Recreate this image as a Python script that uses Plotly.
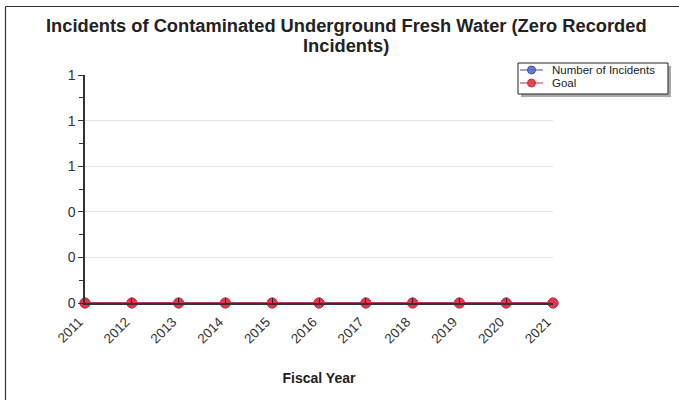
import plotly.graph_objects as go

years = [2011, 2012, 2013, 2014, 2015, 2016, 2017, 2018, 2019, 2020, 2021]
incidents = [0, 0, 0, 0, 0, 0, 0, 0, 0, 0, 0]
goal = [0, 0, 0, 0, 0, 0, 0, 0, 0, 0, 0]
series_names = ["Number of Incidents", "Goal"]
title_lines = ["Incidents of Contaminated Underground Fresh Water (Zero Recorded", "Incidents)"]

W, H = 679, 400
L, R, T, B = 85, 553, 75, 303  # plot area in screen pixels

BLUE_LINE = "#4050a0"
BLUE_FILL = "rgba(80,100,200,0.85)"
RED_LINE = "#c0304a"
RED_FILL = "rgba(235,50,60,0.9)"

fig = go.Figure()
fig.add_trace(go.Scatter(
    x=years, y=incidents, name=series_names[0], mode="lines+markers",
    line=dict(color=BLUE_LINE, width=1.5),
    marker=dict(symbol="circle", size=10, color=BLUE_FILL, line=dict(color=BLUE_LINE, width=1)),
    cliponaxis=False, showlegend=False,
))
fig.add_trace(go.Scatter(
    x=years, y=goal, name=series_names[1], mode="lines+markers",
    line=dict(color=RED_LINE, width=1.5),
    marker=dict(symbol="circle", size=10, color=RED_FILL, line=dict(color="#e03040", width=1)),
    cliponaxis=False, showlegend=False,
))

def px(X):
    return (X - L) / (R - L)

def py(Y):
    return (B - Y) / (B - T)

shapes = [
    # outer frame (left and top edges)
    dict(type="line", xref="paper", yref="paper", x0=px(5.5), x1=px(5.5), y0=py(405), y1=py(6.5),
         line=dict(color="#333333", width=1.2)),
    dict(type="line", xref="paper", yref="paper", x0=px(5.5), x1=px(690), y0=py(6.5), y1=py(6.5),
         line=dict(color="#333333", width=1.2)),
    # legend shadow and box
    dict(type="rect", xref="paper", yref="paper", x0=px(521), x1=px(671), y0=py(97), y1=py(66),
         line=dict(width=0), fillcolor="#aaaaaa"),
    dict(type="rect", xref="paper", yref="paper", x0=px(518), x1=px(668), y0=py(94), y1=py(63),
         line=dict(color="#222222", width=1), fillcolor="white"),
]
annotations = []
# title (two lines, tight spacing)
for yy, txt in zip([25, 46], title_lines):
    annotations.append(dict(text="<b>" + txt + "</b>", xref="paper", yref="paper",
                            x=px(346), y=py(yy), xanchor="center", yanchor="middle",
                            showarrow=False, font=dict(size=18.3, color="#222222")))
leg_items = [(70, BLUE_LINE, BLUE_FILL), (83, RED_LINE, RED_FILL)]
for (yy, lc, fc), name in zip(leg_items, series_names):
    shapes.append(dict(type="line", xref="paper", yref="paper", x0=px(520), x1=px(543),
                       y0=py(yy), y1=py(yy), line=dict(color=lc, width=1)))
    r = 4
    shapes.append(dict(type="circle", xref="paper", yref="paper",
                       x0=px(531.5 - r), x1=px(531.5 + r), y0=py(yy + r), y1=py(yy - r),
                       line=dict(color=lc, width=1), fillcolor=fc))
    annotations.append(dict(text=name, xref="paper", yref="paper", x=px(550), y=py(yy),
                            xanchor="left", yanchor="middle", showarrow=False,
                            font=dict(size=11.5, color="#222222")))

fig.update_layout(
    width=W, height=H,
    margin=dict(l=L, r=W - R, t=T, b=H - B, pad=0),
    paper_bgcolor="white", plot_bgcolor="white",
    font=dict(family="Liberation Sans, Arial, sans-serif", color="#333333"),
    showlegend=False,
    xaxis=dict(
        range=[2011, 2021], tickmode="array", tickvals=years,
        ticktext=[str(y) for y in years], tickangle=-45,
        showgrid=False, zeroline=False, showline=True, linecolor="#333333", linewidth=1.5,
        ticks="inside", ticklen=5, tickcolor="#222222",
        tickfont=dict(size=13.5, color="#333333"),
        ticklabelstandoff=4, ticklabelshift=-6,
        title=dict(text="<b>Fiscal Year</b>", font=dict(size=14, color="#222222"), standoff=28),
    ),
    yaxis=dict(
        range=[0, 1], tickmode="array", tickvals=[0, 0.2, 0.4, 0.6, 0.8, 1.0],
        ticktext=["0", "0", "0", "1", "1", "1"],
        showgrid=True, gridcolor="#e2e2e2", gridwidth=1,
        zeroline=False, showline=True, linecolor="#333333", linewidth=1.5,
        ticks="outside", ticklen=5, tickcolor="#333333",
        minor=dict(tickvals=[0.1, 0.3, 0.5, 0.7, 0.9], ticks="outside", ticklen=4,
                   tickcolor="#333333", showgrid=False),
        tickfont=dict(size=14, color="#333333"),
    ),
    shapes=shapes,
    annotations=annotations,
)

fig.write_html("out.html", config={"displayModeBar": False},
               post_script="document.body.style.margin='0';")
